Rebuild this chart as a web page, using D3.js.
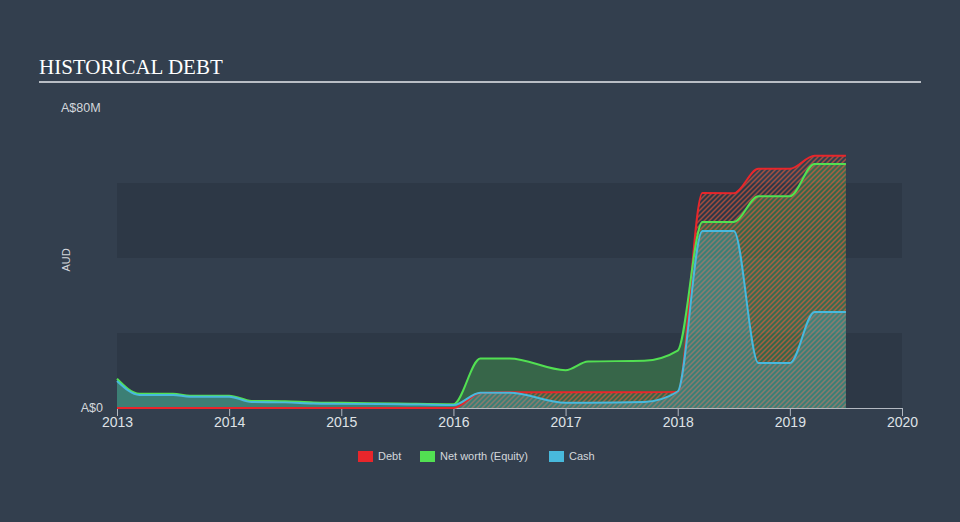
<!DOCTYPE html>
<html>
<head>
<meta charset="utf-8">
<script src="https://cdn.jsdelivr.net/npm/d3@7/dist/d3.min.js"></script>
<style>
  html, body { margin: 0; padding: 0; background: #333f4e; }
  svg { display: block; }
</style>
</head>
<body>
<svg id="chart" width="960" height="522"></svg>
<script>
// ---- Data (values in A$ millions, dates as decimal years) ----
const dates  = [2013.0, 2013.2, 2013.5, 2013.65, 2014.0, 2014.2, 2014.5, 2014.75, 2015.0, 2015.5, 2016.0, 2016.24, 2016.5, 2017.0, 2017.2, 2017.7, 2018.0, 2018.22, 2018.5, 2018.72, 2019.0, 2019.22, 2019.5];
const debt   = [0, 0, 0, 0, 0, 0, 0, 0, 0, 0, 0, 4.0, 4.2, 4.2, 4.2, 4.2, 4.3, 57.3, 57.3, 63.8, 63.8, 67.3, 67.3];
const equity = [7.8, 3.8, 3.8, 3.3, 3.3, 1.9, 1.8, 1.5, 1.4, 1.2, 1.0, 13.2, 13.2, 10.1, 12.4, 12.6, 15.3, 49.6, 49.6, 56.5, 56.5, 65.1, 65.1];
const cash   = [7.2, 3.5, 3.5, 3.0, 3.0, 1.6, 1.5, 1.2, 1.1, 1.0, 0.8, 4.1, 4.1, 1.4, 1.4, 1.6, 4.4, 47.2, 47.2, 12.0, 12.0, 25.6, 25.6];
const xTicks = [2013, 2014, 2015, 2016, 2017, 2018, 2019, 2020];
const yTicks = [0, 80];
const yTickLabels = ["A$0", "A$80M"];
const bands = [[0, 20], [40, 60]];
const legendItems = ["Debt", "Net worth (Equity)", "Cash"];
const colors = { debt: "#e8262b", equity: "#52e052", cash: "#48b9dc" };

const svg = d3.select("#chart");
const x = d3.scaleLinear().domain([2013, 2020]).range([117, 902]);
const y = d3.scaleLinear().domain([0, 80]).range([408, 108]);

// defs: hatch pattern
const defs = svg.append("defs");
const pat = defs.append("pattern")
  .attr("id", "hatch").attr("patternUnits", "userSpaceOnUse")
  .attr("width", 5).attr("height", 5);
pat.append("path")
  .attr("d", "M-1,1 l2,-2 M0,5 l5,-5 M4,6 l2,-2")
  .attr("stroke", "#ee5a3a").attr("stroke-width", 1.5).attr("stroke-opacity", 0.6);

// Title
svg.append("text").attr("x", 39).attr("y", 74)
  .attr("font-family", "'Liberation Serif', 'Times New Roman', serif")
  .attr("font-size", 21).attr("fill", "#ffffff").text("HISTORICAL DEBT");
svg.append("line").attr("x1", 39).attr("x2", 921).attr("y1", 82).attr("y2", 82)
  .attr("stroke", "#b9bec5").attr("stroke-width", 2);

// Bands
svg.selectAll("rect.band").data(bands).enter().append("rect")
  .attr("class", "band")
  .attr("x", x(2013)).attr("width", x(2020) - x(2013))
  .attr("y", d => y(d[1])).attr("height", d => y(d[0]) - y(d[1]))
  .attr("fill", "#2d3846");

const sans = "'Liberation Sans', Arial, Helvetica, sans-serif";

// Y labels
svg.append("text").attr("x", 61).attr("y", y(80)).attr("dy", "0.35em")
  .attr("font-family", sans).attr("font-size", 12.5).attr("fill", "#d3d7dc")
  .text(yTickLabels[1]);
svg.append("text").attr("x", 103).attr("y", y(0)).attr("dy", "0.3em")
  .attr("text-anchor", "end")
  .attr("font-family", sans).attr("font-size", 12.5).attr("fill", "#d3d7dc")
  .text(yTickLabels[0]);
svg.append("text").attr("transform", "translate(70,260) rotate(-90)")
  .attr("text-anchor", "middle")
  .attr("font-family", sans).attr("font-size", 11).attr("fill", "#d3d7dc")
  .text("AUD");

const rows = dates.map((d, i) => ({ t: d, debt: debt[i], equity: equity[i], cash: cash[i] }));
const curve = d3.curveMonotoneX;

const area = key => d3.area().curve(curve).x(d => x(d.t)).y0(y(0)).y1(d => y(d[key]));
const line = key => d3.line().curve(curve).x(d => x(d.t)).y(d => y(d[key]));

// X axis
const xAxis = d3.axisBottom(x).tickValues(xTicks).tickFormat(d3.format("d")).tickSizeOuter(0).tickSize(8);
const gx = svg.append("g").attr("transform", `translate(0,${y(0)})`).call(xAxis);
gx.select(".domain").attr("stroke", "#b3b9c1");
gx.selectAll(".tick line").attr("stroke", "#b3b9c1");
gx.selectAll(".tick text").attr("fill", "#dfe2e6").attr("font-family", sans)
  .attr("font-size", 14).attr("y", 14).attr("dy", "0.34em");

// Areas
svg.append("path").datum(rows).attr("d", area("equity")).attr("fill", colors.equity).attr("fill-opacity", 0.28);
svg.append("path").datum(rows).attr("d", area("debt")).attr("fill", "url(#hatch)");
svg.append("path").datum(rows).attr("d", area("cash")).attr("fill", colors.cash).attr("fill-opacity", 0.3);

// Lines
svg.append("path").datum(rows).attr("d", line("debt")).attr("fill", "none").attr("stroke", colors.debt).attr("stroke-width", 2);
svg.append("path").datum(rows).attr("d", line("equity")).attr("fill", "none").attr("stroke", colors.equity).attr("stroke-width", 2);
svg.append("path").datum(rows).attr("d", line("cash")).attr("fill", "none").attr("stroke", colors.cash).attr("stroke-width", 2);

// Legend
const legendX = [358, 420, 549];
const legendColors = [colors.debt, colors.equity, colors.cash];
const lg = svg.append("g");
legendItems.forEach((name, i) => {
  lg.append("rect").attr("x", legendX[i]).attr("y", 451).attr("width", 15).attr("height", 11)
    .attr("fill", legendColors[i]);
  lg.append("text").attr("x", legendX[i] + 20).attr("y", 456.5).attr("dy", "0.35em")
    .attr("font-family", sans).attr("font-size", 11).attr("fill", "#d3d7dc").text(name);
});
</script>
</body>
</html>
